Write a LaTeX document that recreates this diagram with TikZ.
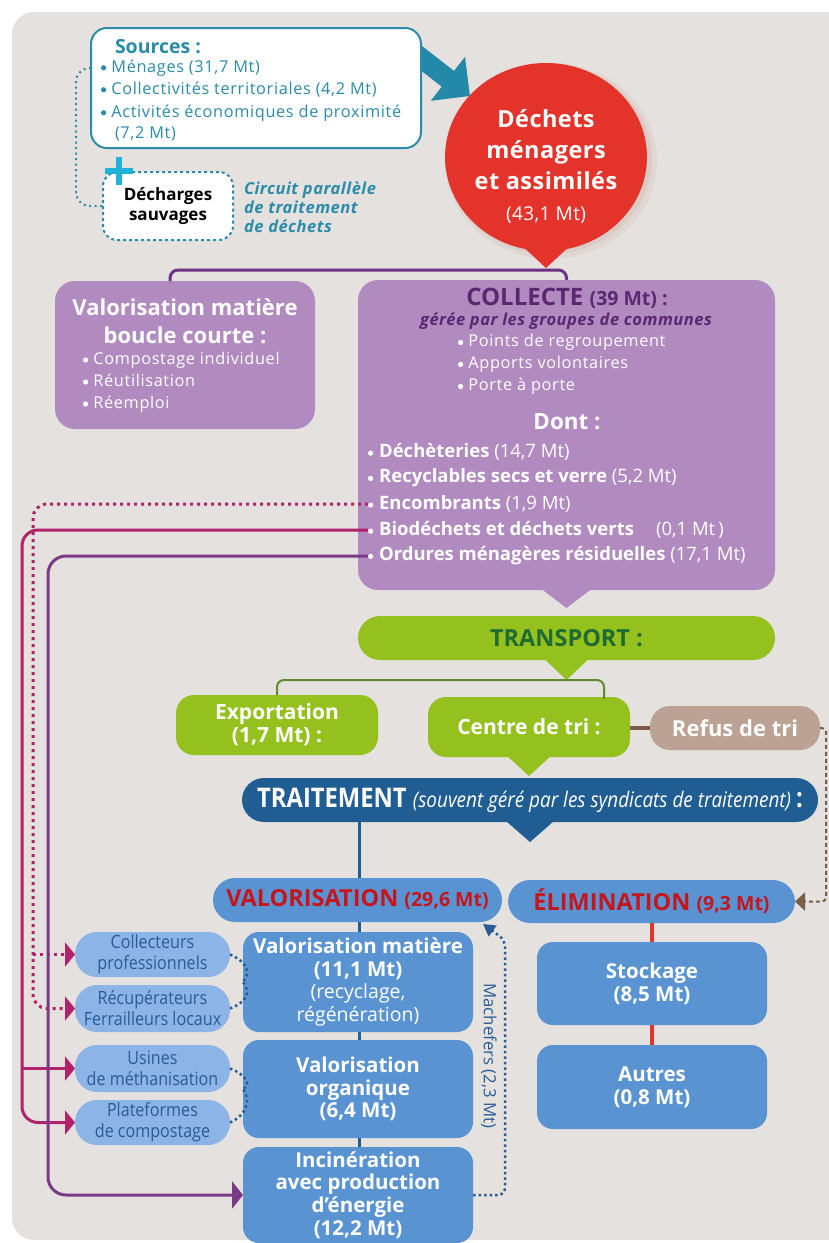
\documentclass[tikz,border=0pt]{standalone}
\usepackage{fontspec}
\usepackage{graphicx}
\setmainfont{Open Sans}
\usetikzlibrary{arrows.meta,calc,shapes.geometric}
\pgfdeclarelayer{back}
\pgfdeclarelayer{bgl}
\pgfsetlayers{back,bgl,main}
\definecolor{bg}{HTML}{E4E1DE}
\definecolor{tealc}{HTML}{2B8CA9}
\definecolor{tealarrow}{HTML}{2489A8}
\definecolor{pluscol}{HTML}{20B2D8}
\definecolor{redc}{HTML}{E4332B}
\definecolor{shadowc}{HTML}{B0554A}
\definecolor{lav}{HTML}{B18AC0}
\definecolor{purptxt}{HTML}{5A2770}
\definecolor{purpline}{HTML}{6D3082}
\definecolor{magc}{HTML}{B0226A}
\definecolor{purpc}{HTML}{7B3A88}
\definecolor{greenc}{HTML}{95C11F}
\definecolor{dgreen}{HTML}{1F6B30}
\definecolor{gline}{HTML}{5E8C2C}
\definecolor{brownc}{HTML}{7B5D47}
\definecolor{taupe}{HTML}{BBA294}
\definecolor{dblue}{HTML}{1F5D92}
\definecolor{mblue}{HTML}{5A93D2}
\definecolor{lblue}{HTML}{8DB4E6}
\definecolor{btext}{HTML}{275C97}
\definecolor{redt}{HTML}{C6161D}
\newcommand{\myfs}[2]{\fontsize{#1}{#2}\selectfont}
\newcommand{\cond}[1]{\scalebox{0.88}[1]{#1}}
\newcommand{\bul}{\raisebox{0.1em}{\tikz\fill (0,0) circle (2.6pt);}\hspace{0.32em}}
\newcommand{\listfont}{\myfs{16.3}{22}\addfontfeature{LetterSpace=4}}
\begin{document}
\begin{tikzpicture}[x=1pt,y=-1pt,
  every node/.style={inner sep=0pt, outer sep=0pt},
  tip/.style={-{Triangle[length=10pt,width=24pt]}},
  lavbox/.style={fill=lav, rounded corners=20pt},
  midbox/.style={fill=mblue, rounded corners=16pt, minimum width=230pt, text=white, align=center, font=\bfseries\myfs{20.5}{22.7}},
  lightbox/.style={fill=lblue, rounded corners=22pt, minimum width=155pt, text=btext, align=center, font=\myfs{18.3}{21}},
  greenbox/.style={fill=greenc, rounded corners=18pt, minimum width=202pt, minimum height=60pt, text=white, align=center, font=\bfseries\myfs{21}{23}},
  bluebar/.style={fill=mblue, rounded corners=22pt, text=redt},
  bdot/.style={btext, line width=2.5pt, dash pattern=on 2.5pt off 3pt}
]
\useasboundingbox (0,0) rectangle (829,1243);
\clip (0,0) rectangle (829,1243);
\begin{pgfonlayer}{back}
\fill[white] (0,0) rectangle (829,1243);
\fill[bg, rounded corners=22pt] (12,12) rectangle (870,1240);
\end{pgfonlayer}

% coordinates for vertical runs
\coordinate (vx1) at (33,0);
\coordinate (vx2) at (22,0);
\coordinate (vx3) at (48,0);
\coordinate (vx4) at (826,0);
\coordinate (vx5) at (359,0);
\coordinate (vx6) at (505,0);

% teal arrow
\coordinate (arrS) at (416,54);
\coordinate (arrE) at (470,96);
\draw[tealarrow, line width=20pt, -{Triangle[length=28pt,width=54pt]}] (arrS) -- (arrE);

% Sources
\node[draw=tealc, line width=2pt, fill=white, rounded corners=16pt, minimum width=330pt, minimum height=120pt] (src) at (256,88) {};
\node[anchor=base west, text=tealc, font=\bfseries\myfs{19.5}{22}] (srct) at (115,53) {Sources :};
\node[anchor=base west, text=tealc, font=\listfont] (s1) at (101,72) {\bul Ménages (31,7 Mt)};
\node[anchor=base west, text=tealc, font=\listfont] (s2) at (101,94) {\bul Collectivités territoriales (4,2 Mt)};
\node[anchor=base west, text=tealc, font=\listfont] (s3) at (101,117) {\bul Activités économiques de proximité};
\node[anchor=base west, text=tealc, font=\listfont] (s4) at (115,138) {(7,2 Mt)};

% Décharges sauvages
\node[draw=tealc, line width=2pt, dash pattern=on 3pt off 3pt, fill=white, rounded corners=14pt, minimum width=130pt, minimum height=68pt, align=center, font=\bfseries\myfs{17}{20.5}] (dech) at (168,206) {Décharges\\sauvages};
\draw[pluscol, line width=5.5pt] (105,171) -- (133,171) (119,157) -- (119,185);
\draw[tealc, line width=2pt, dash pattern=on 2pt off 3.5pt, rounded corners=14pt] ($(src.west)+(0,-20)$) -- (76,68) -- (76,206) -- (dech.west);
\node[anchor=west, align=left, text=tealc, font=\bfseries\itshape\myfs{16.5}{19.2}\addfontfeature{LetterSpace=3}] (circ) at (244,207) {Circuit parallèle\\de traitement\\de déchets};

% Red bubble
\fill[shadowc, opacity=0.07] (551,161) ellipse (106pt and 98pt);
\fill[shadowc, opacity=0.09] (549,159) ellipse (103pt and 95pt);
\node[ellipse, fill=redc, minimum width=202pt, minimum height=188pt] (dma) at (546,157) {};
\fill[redc] (518,242) -- (574,242) -- (546,268) -- cycle;
\node[text=white, align=center, font=\bfseries\myfs{23.5}{31}\addfontfeature{LetterSpace=2}] (dmat) at (546,166) {Déchets\\ménagers\\et assimilés\\\mdseries\myfs{19}{31}(43,1 Mt)};

% Valorisation matière boucle courte
\node[lavbox, minimum width=260pt, minimum height=148pt] (vmbc) at (185,355) {};
\node[text=white, align=center, font=\bfseries\myfs{22}{28}] (vmbct) at (185,321) {Valorisation matière\\boucle courte :};
\node[anchor=west, align=left, text=white, font=\listfont] (vmbcl) at (83,382) {\bul Compostage individuel\\\bul Réutilisation\\\bul Réemploi};

% COLLECTE
\node[lavbox, minimum width=417pt, minimum height=310pt] (coll) at (566.5,435) {};
\fill[lav] ($(coll.south)+(-25,-1)$) -- ($(coll.south)+(25,-1)$) -- ($(coll.south)+(0,18)$) -- cycle;
\draw[purpline, line width=3pt, rounded corners=8pt] ($(vmbc.north)+(-15,0)$) -- ++(0,-11) -| (coll.north);
\node[text=purptxt, font=\bfseries\myfs{24}{26}] (collt) at (567,298) {COLLECTE {\myfs{19.5}{26}(39 Mt) :}};
\node[text=purptxt, font=\bfseries\itshape\myfs{16.5}{22}\addfontfeature{LetterSpace=3}] (collsub) at (566,321) {gérée par les groupes de communes};
\node[anchor=west, align=left, text=white, font=\listfont] (collb) at (458,364.5) {\bul Points de regroupement\\\bul Apports volontaires\\\bul Porte à porte};
\node[text=white, font=\bfseries\myfs{22.4}{26}] (dont) at (567,422) {Dont :};
\node[anchor=west, text=white, font=\myfs{18.5}{22}] (dech2) at (368,452) {\textbf{\bul Déchèteries} (14,7 Mt)};
\node[anchor=west, text=white, font=\myfs{18.5}{22}] (recy) at (368,478) {\textbf{\bul Recyclables secs et verre} (5,2 Mt)};
\node[anchor=west, text=white, font=\myfs{18.5}{22}] (enc) at (368,504) {\textbf{\bul Encombrants} (1,9 Mt)};
\node[anchor=west, text=white, font=\myfs{18.5}{22}] (bio) at (368,530) {\textbf{\bul Biodéchets et déchets verts}\hspace{22pt}(0,1 Mt\,)};
\node[anchor=west, text=white, font=\myfs{18.5}{22}] (omr) at (368,556) {\textbf{\bul Ordures ménagères résiduelles} (17,1 Mt)};

% TRANSPORT
\node[fill=greenc, rounded corners=22pt, minimum width=417pt, minimum height=44pt, text=dgreen, font=\bfseries\myfs{23.5}{26}] (transp) at (566.5,638) {TRANSPORT :};
\fill[greenc] ($(transp.south)+(-22,-1)$) -- ($(transp.south)+(22,-1)$) -- ($(transp.south)+(0,20)$) -- cycle;
\node[greenbox] (expo) at (277,725) {Exportation\\(1,7 Mt) :};
\node[greenbox] (ctri) at (529,727) {Centre de tri :};
\fill[greenc] ($(ctri.south)+(-24,-3)$) -- ($(ctri.south)+(24,-3)$) -- ($(ctri.south)+(0,19)$) -- cycle;
\draw[gline, line width=2pt, rounded corners=7pt] (expo.north) -- ++(0,-15) -| ($(ctri.north)+(75,2)$);
\node[fill=taupe, rounded corners=20pt, minimum width=170pt, minimum height=44pt, text=white, font=\bfseries\myfs{22}{24}] (refus) at (735,728) {Refus de tri};
\draw[brownc, line width=4pt] (ctri.east |- refus.west) -- (refus.west);

% TRAITEMENT
\node[fill=dblue, rounded corners=22pt, minimum width=576pt, minimum height=44pt, text=white] (trait) at (530,800) {\cond{\bfseries\myfs{27}{26}TRAITEMENT \mdseries\itshape\myfs{21.5}{26}(souvent géré par les syndicats de traitement) \upshape\bfseries\myfs{27}{26}:}};
\fill[dblue] ($(trait.south)+(-24,-1)$) -- ($(trait.south)+(24,-1)$) -- ($(trait.south)+(0,20)$) -- cycle;

\node[bluebar, minimum width=289pt, minimum height=44pt] (valo) at (357.5,900) {\bfseries\myfs{23.5}{26}VALORISATION {\myfs{19.5}{26}(29,6 Mt)}};
\node[bluebar, minimum width=287pt, minimum height=43pt] (elim) at (651.5,901.5) {\bfseries\myfs{23.5}{26}ÉLIMINATION {\myfs{19.5}{26}(9,3 Mt)}};

\node[midbox, minimum height=100pt] (vmat) at (358,982) {Valorisation matière\\(11,1 Mt)\\\mdseries\myfs{19.5}{22.7}(recyclage,\\\mdseries\myfs{19.5}{22.7}régénération)};
\node[midbox, minimum height=98pt] (vorg) at (358,1089) {Valorisation\\organique\\(6,4 Mt)};
\node[midbox, minimum height=96pt] (inc) at (358,1195) {Incinération\\avec production\\d’énergie\\(12,2 Mt)};
\node[midbox, minimum height=83pt] (stock) at (652,983.5) {Stockage\\(8,5 Mt)};
\node[midbox, minimum height=84pt] (autres) at (652,1087) {Autres\\(0,8 Mt)};

\node[lightbox, minimum height=45pt] (col) at (152.5,954.5) {\cond{Collecteurs}\\\cond{professionnels}};
\node[lightbox, minimum height=47pt] (rec) at (152.5,1008.5) {\cond{Récupérateurs}\\\cond{Ferrailleurs locaux}};
\node[lightbox, minimum height=47pt] (usi) at (152.5,1068.5) {\cond{Usines}\\\cond{de méthanisation}};
\node[lightbox, minimum height=45pt] (plat) at (152.5,1122.5) {\cond{Plateformes}\\\cond{de compostage}};

% background lines
\begin{pgfonlayer}{bgl}
\draw[dblue, line width=3pt] (trait.south -| vx5) -- (inc.north -| vx5);
\draw[redc, line width=4pt] (elim.south -| stock.north) -- (autres.north);
\end{pgfonlayer}

% Refus -> Elimination
\draw[brownc, line width=2pt, dash pattern=on 4pt off 3pt, rounded corners=4pt, -{Triangle[length=10pt,width=18pt]}] (refus.east) -- (refus.east -| vx4) -- (elim.east -| vx4) -- (elim.east);

% left connectors
\draw[magc, line width=3pt, dash pattern=on 3pt off 4pt, rounded corners=14pt, tip] (enc.west) -- (enc.west -| vx1) -- (rec.west -| vx1) -- (rec.west);
\draw[magc, line width=3pt, dash pattern=on 3pt off 4pt, tip] (col.west -| vx1) -- (col.west);
\draw[magc, line width=3pt, rounded corners=16pt, tip] (bio.west) -- (bio.west -| vx2) -- (plat.west -| vx2) -- (plat.west);
\draw[magc, line width=3pt, tip] (usi.west -| vx2) -- (usi.west);
\draw[purpc, line width=3pt, rounded corners=18pt, -{Triangle[length=11pt,width=27pt]}] (omr.west) -- (omr.west -| vx3) -- (inc.west -| vx3) -- (inc.west);

% dotted braces
\draw[bdot] (col.east) .. controls (247,962) and (251,972) .. (vmat.west);
\draw[bdot] (rec.east) .. controls (247,1002) and (251,992) .. (vmat.west);
\draw[bdot] (usi.east) .. controls (247,1075) and (251,1085) .. (vorg.west);
\draw[bdot] (plat.east) .. controls (247,1115) and (251,1100) .. (vorg.west);

% Machefers
\coordinate (mtip) at ($(valo.south east)+(-19,2)$);
\draw[bdot, rounded corners=7pt, -{Triangle[length=12pt,width=13pt]}] (inc.east) -- (inc.east -| vx6) -- (vx6 |- 0,940) -- (mtip);
\node[rotate=-90, text=btext, font=\myfs{16.8}{20}] (mach) at (489,1056) {Machefers (2,3 Mt)};
\end{tikzpicture}
\end{document}
